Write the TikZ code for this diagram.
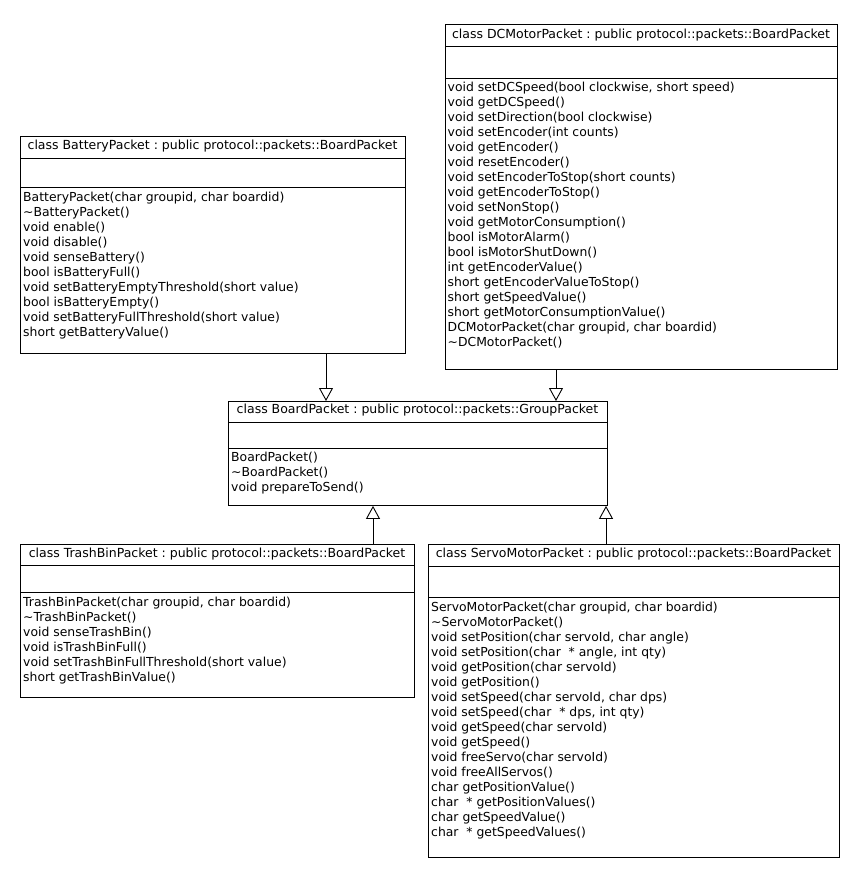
\documentclass[tikz,border=0pt]{standalone}
\usepackage{fontspec}
\setmainfont{DejaVu Sans}
\usetikzlibrary{arrows.meta}
\frenchspacing
\begin{document}
\begin{tikzpicture}[x=1pt,y=-1pt,
  classbox/.style={draw, line width=0.9pt, inner sep=0pt, anchor=north west},
  classtitle/.style={font=\fontsize{12.5}{15}\selectfont\frenchspacing, inner sep=0pt, anchor=base},
  ops/.style={font=\fontsize{12.4}{15}\selectfont\frenchspacing, align=left, anchor=north west, inner sep=0pt},
  sepline/.style={line width=0.9pt},
  inh/.style={line width=0.9pt, -{Triangle[open, width=14pt, length=13pt, fill=white]}}]
\useasboundingbox (0,0) rectangle (856,876);

% ---------- DCMotorPacket ----------
\node[classbox, minimum width=392pt, minimum height=345pt] (dc) at (445,24) {};
\node[classtitle] (dctitle) at (641,38) {class DCMotorPacket : public protocol::packets::BoardPacket};
\coordinate (dcs1) at (0,46);
\coordinate (dcs2) at (0,78);
\draw[sepline] (dc.west |- dcs1) -- (dc.east |- dcs1);
\draw[sepline] (dc.west |- dcs2) -- (dc.east |- dcs2);
\node[ops] (dcops) at (447.5,81) {\strut void setDCSpeed(bool clockwise, short speed)\\
\strut void getDCSpeed()\\
\strut void setDirection(bool clockwise)\\
\strut void setEncoder(int counts)\\
\strut void getEncoder()\\
\strut void resetEncoder()\\
\strut void setEncoderToStop(short counts)\\
\strut void getEncoderToStop()\\
\strut void setNonStop()\\
\strut void getMotorConsumption()\\
\strut bool isMotorAlarm()\\
\strut bool isMotorShutDown()\\
\strut int getEncoderValue()\\
\strut short getEncoderValueToStop()\\
\strut short getSpeedValue()\\
\strut short getMotorConsumptionValue()\\
\strut DCMotorPacket(char groupid, char boardid)\\
\strut \textasciitilde DCMotorPacket()};

% ---------- BatteryPacket ----------
\node[classbox, minimum width=385pt, minimum height=217pt] (bat) at (20,136) {};
\node[classtitle] (battitle) at (212.5,149.5) {class BatteryPacket : public protocol::packets::BoardPacket};
\coordinate (bats1) at (0,158);
\coordinate (bats2) at (0,187);
\draw[sepline] (bat.west |- bats1) -- (bat.east |- bats1);
\draw[sepline] (bat.west |- bats2) -- (bat.east |- bats2);
\node[ops] (batops) at (23,190.7) {\strut BatteryPacket(char groupid, char boardid)\\
\strut \textasciitilde BatteryPacket()\\
\strut void enable()\\
\strut void disable()\\
\strut void senseBattery()\\
\strut bool isBatteryFull()\\
\strut void setBatteryEmptyThreshold(short value)\\
\strut bool isBatteryEmpty()\\
\strut void setBatteryFullThreshold(short value)\\
\strut short getBatteryValue()};

% ---------- BoardPacket ----------
\node[classbox, minimum width=379pt, minimum height=104pt] (board) at (228,401) {};
\node[classtitle] (boardtitle) at (417.5,413.5) {class BoardPacket : public protocol::packets::GroupPacket};
\coordinate (bos1) at (0,422);
\coordinate (bos2) at (0,448);
\draw[sepline] (board.west |- bos1) -- (board.east |- bos1);
\draw[sepline] (board.west |- bos2) -- (board.east |- bos2);
\node[ops] (boardops) at (231,451) {\strut BoardPacket()\\
\strut \textasciitilde BoardPacket()\\
\strut void prepareToSend()};

% ---------- TrashBinPacket ----------
\node[classbox, minimum width=394pt, minimum height=153pt] (trash) at (20,544) {};
\node[classtitle] (trashtitle) at (217,557.5) {class TrashBinPacket : public protocol::packets::BoardPacket};
\coordinate (trs1) at (0,565);
\coordinate (trs2) at (0,592);
\draw[sepline] (trash.west |- trs1) -- (trash.east |- trs1);
\draw[sepline] (trash.west |- trs2) -- (trash.east |- trs2);
\node[ops] (trashops) at (23,596) {\strut TrashBinPacket(char groupid, char boardid)\\
\strut \textasciitilde TrashBinPacket()\\
\strut void senseTrashBin()\\
\strut void isTrashBinFull()\\
\strut void setTrashBinFullThreshold(short value)\\
\strut short getTrashBinValue()};

% ---------- ServoMotorPacket ----------
\node[classbox, minimum width=411pt, minimum height=313pt] (servo) at (428,544) {};
\node[classtitle] (servotitle) at (633.5,557.5) {class ServoMotorPacket : public protocol::packets::BoardPacket};
\coordinate (svs1) at (0,566);
\coordinate (svs2) at (0,597);
\draw[sepline] (servo.west |- svs1) -- (servo.east |- svs1);
\draw[sepline] (servo.west |- svs2) -- (servo.east |- svs2);
\node[ops] (servoops) at (431,601) {\strut ServoMotorPacket(char groupid, char boardid)\\
\strut \textasciitilde ServoMotorPacket()\\
\strut void setPosition(char servoId, char angle)\\
\strut void setPosition(char\ \ * angle, int qty)\\
\strut void getPosition(char servoId)\\
\strut void getPosition()\\
\strut void setSpeed(char servoId, char dps)\\
\strut void setSpeed(char\ \ * dps, int qty)\\
\strut void getSpeed(char servoId)\\
\strut void getSpeed()\\
\strut void freeServo(char servoId)\\
\strut void freeAllServos()\\
\strut char getPositionValue()\\
\strut char\ \ * getPositionValues()\\
\strut char getSpeedValue()\\
\strut char\ \ * getSpeedValues()};

% ---------- inheritance connectors ----------
\coordinate (x1) at (326,0);
\coordinate (x2) at (556,0);
\coordinate (x3) at (373,0);
\coordinate (x4) at (606,0);
\draw[inh] (bat.south -| x1) -- (board.north -| x1);
\draw[inh] (dc.south -| x2) -- (board.north -| x2);
\draw[inh] (trash.north -| x3) -- (board.south -| x3);
\draw[inh] (servo.north -| x4) -- (board.south -| x4);
\end{tikzpicture}
\end{document}
